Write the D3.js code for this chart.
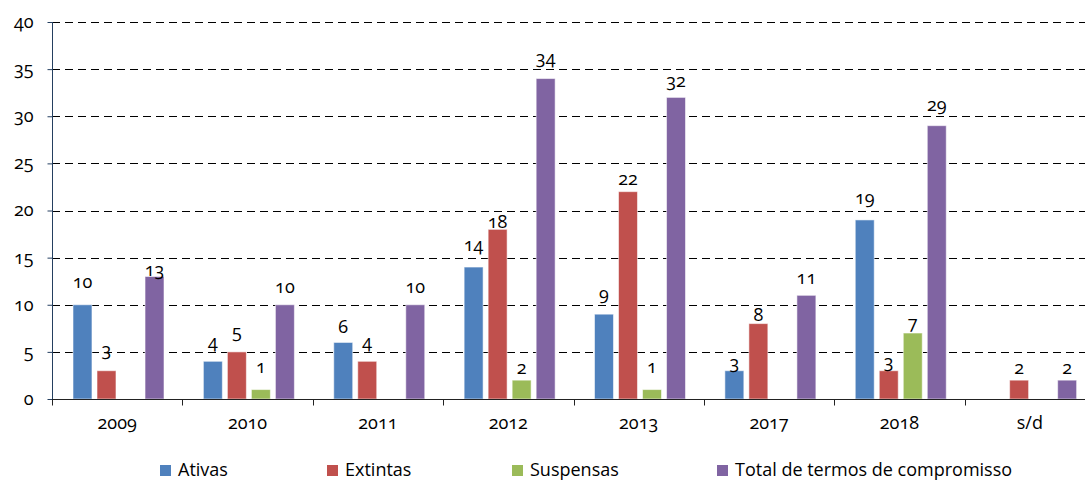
<!DOCTYPE html>
<html>
<head>
<meta charset="utf-8">
<script src="https://cdn.jsdelivr.net/npm/d3@7"></script>
<style>
  html, body { margin: 0; padding: 0; background: #fff; }
  svg { display: block; }
  text { font-family: "Open Sans", "Noto Sans", sans-serif; font-size: 18px; fill: #000;
         font-variant-numeric: oldstyle-nums; }
</style>
</head>
<body>
<div id="chart"></div>
<script>
// Termos de compromisso por ano e situação
const categories = ["2009", "2010", "2011", "2012", "2013", "2017", "2018", "s/d"];
const seriesNames = ["Ativas", "Extintas", "Suspensas", "Total de termos de compromisso"];
const ativas    = [10, 4, 6, 14, 9, 3, 19, 0];
const extintas  = [3, 5, 4, 18, 22, 8, 3, 2];
const suspensas = [0, 1, 0, 2, 1, 0, 7, 0];
const total     = [13, 10, 10, 34, 32, 11, 29, 2];
const yTicks    = [0, 5, 10, 15, 20, 25, 30, 35, 40];

const seriesValues = [ativas, extintas, suspensas, total];
const colors = ["#4F81BD", "#C0504D", "#9BBB59", "#8064A2"];

// gap (px) between a bar's top and its value label centre, per series × category
const labelGap = [
  [23, 19, 15, 22, 20, 8, 22, 12],
  [21, 20, 19, 7, 13, 9, 9, 12],
  [20, 23, 20, 12, 23, 20, 10, 12],
  [6, 18, 18, 21, 16, 17, 21, 12]
];

const W = 1085, H = 481;
const plotLeft = 52, plotRight = 1095, plotTop = 22, plotBottom = 399;

const svg = d3.select("#chart").append("svg")
  .attr("width", W).attr("height", H);

const x = d3.scaleBand().domain(categories).range([plotLeft, plotRight]).padding(0);
const xs = d3.scaleBand().domain(d3.range(seriesNames.length))
  .range([21, 112]).paddingInner(0.21).paddingOuter(0);
const y = d3.scaleLinear().domain([0, 40]).range([plotBottom, plotTop]);

// dashed horizontal gridlines
svg.append("g")
  .selectAll("line")
  .data(yTicks.filter(d => d > 0))
  .join("line")
  .attr("x1", plotLeft).attr("x2", W)
  .attr("y1", d => Math.round(y(d)) + 0.5).attr("y2", d => Math.round(y(d)) + 0.5)
  .attr("stroke", "#000").attr("stroke-width", 1.2)
  .attr("stroke-dasharray", "8,5");

// bars
const barData = [];
seriesValues.forEach((vals, s) => {
  vals.forEach((v, i) => barData.push({ s, i, v }));
});

svg.append("g")
  .selectAll("rect")
  .data(barData.filter(d => d.v > 0))
  .join("rect")
  .attr("x", d => x(categories[d.i]) + xs(d.s))
  .attr("y", d => y(d.v))
  .attr("width", xs.bandwidth())
  .attr("height", d => y(0) - y(d.v))
  .attr("fill", d => colors[d.s])
  .attr("stroke", "rgba(255,255,255,0.55)")
  .attr("stroke-width", 1);

// value labels
svg.append("g")
  .selectAll("text")
  .data(barData.filter(d => d.v > 0))
  .join("text")
  .attr("x", d => x(categories[d.i]) + xs(d.s) + xs.bandwidth() / 2)
  .attr("y", d => y(d.v) - labelGap[d.s][d.i] + 6)
  .attr("text-anchor", "middle")
  .text(d => d.v);

// y axis
const yAxis = svg.append("g")
  .attr("transform", `translate(${plotLeft + 0.5},0)`)
  .call(d3.axisLeft(y).tickValues(yTicks).tickSize(5).tickPadding(14).tickFormat(d3.format("d")));
yAxis.select(".domain").attr("stroke", "#243F60").attr("d", `M0,${plotTop}V${plotBottom}`);
yAxis.selectAll(".tick line").attr("stroke", "#243F60");
yAxis.selectAll(".tick text").style("font-size", "18px").attr("dy", "0.3em");

// x axis
const xAxis = svg.append("g")
  .attr("transform", `translate(0,${plotBottom + 0.5})`);
xAxis.append("line")
  .attr("x1", plotLeft).attr("x2", W)
  .attr("stroke", "#222");
xAxis.selectAll("line.tk")
  .data(categories.concat([null]))
  .join("line").attr("class", "tk")
  .attr("x1", (d, i) => Math.round(plotLeft + i * x.step()) + 0.5)
  .attr("x2", (d, i) => Math.round(plotLeft + i * x.step()) + 0.5)
  .attr("y1", 0).attr("y2", 6)
  .attr("stroke", "#222");
xAxis.selectAll("text")
  .data(categories)
  .join("text")
  .attr("x", d => x(d) + x.bandwidth() / 2)
  .attr("y", 29)
  .attr("text-anchor", "middle")
  .text(d => d);

// legend
const legendX = [160, 327, 512, 717];
const legend = svg.append("g");
seriesNames.forEach((name, s) => {
  legend.append("rect")
    .attr("x", legendX[s]).attr("y", 465)
    .attr("width", 11).attr("height", 11)
    .attr("fill", colors[s]);
  legend.append("text")
    .attr("x", legendX[s] + 18).attr("y", 476)
    .text(name);
});
</script>
</body>
</html>
